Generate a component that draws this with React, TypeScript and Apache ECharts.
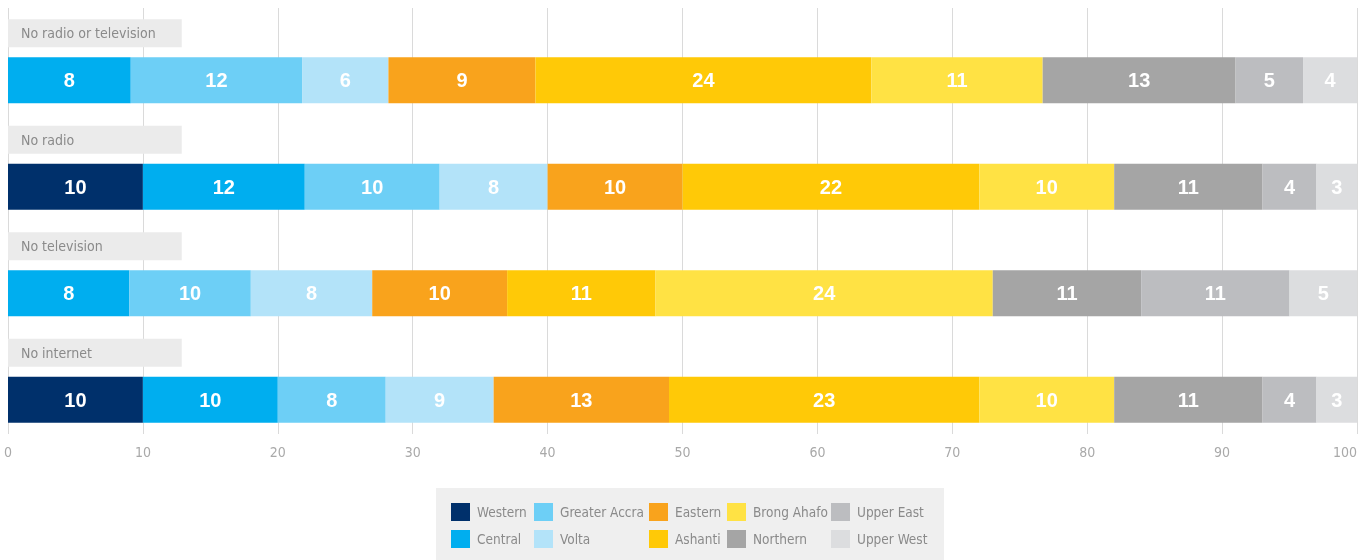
import React, { useEffect, useRef } from "react";
import * as echarts from "echarts";

// ---- data ----
const categories = ["No radio or television", "No radio", "No television", "No internet"];
const regions = ["Western", "Central", "Greater Accra", "Volta", "Eastern", "Ashanti", "Brong Ahafo", "Northern", "Upper East", "Upper West"];
const regionColors = ["#00306b", "#00aeef", "#6dcff6", "#b3e3f9", "#f9a31c", "#ffc907", "#ffe244", "#a5a5a5", "#bcbdc0", "#dcdddf"];

// segment lengths as drawn (share, %)
const western = [null, 10, null, 10];
const central = [9.1, 12, 9, 10];
const greaterAccra = [12.7, 10, 9, 8];
const volta = [6.4, 8, 9, 8];
const eastern = [10.9, 10, 10, 13];
const ashanti = [24.9, 22, 11, 23];
const brongAhafo = [12.7, 10, 25, 10];
const northern = [14.3, 11, 11, 11];
const upperEast = [5, 4, 11, 4];
const upperWest = [4, 3, 5, 3];

// printed values on the segments
const westernLabels = [null, 10, null, 10];
const centralLabels = [8, 12, 8, 10];
const greaterAccraLabels = [12, 10, 10, 8];
const voltaLabels = [6, 8, 8, 9];
const easternLabels = [9, 10, 10, 13];
const ashantiLabels = [24, 22, 11, 23];
const brongAhafoLabels = [11, 10, 24, 10];
const northernLabels = [13, 11, 11, 11];
const upperEastLabels = [5, 4, 11, 4];
const upperWestLabels = [4, 3, 5, 3];

const xTicks = { min: 0, max: 100, interval: 10 };

const seriesValues = [western, central, greaterAccra, volta, eastern, ashanti, brongAhafo, northern, upperEast, upperWest];
const seriesLabels = [westernLabels, centralLabels, greaterAccraLabels, voltaLabels, easternLabels, ashantiLabels, brongAhafoLabels, northernLabels, upperEastLabels, upperWestLabels];

const LABEL_BOX_LEN = 12.88;
const COND = "'Liberation Sans Narrow', 'DejaVu Sans Condensed', Roboto, sans-serif";
const BOLD = "'Liberation Sans', Arial, sans-serif";

// legend column x positions (icon left edge)
const legendColumnsX = [451, 534, 649, 727, 831];

export default function App() {
  const ref = useRef<HTMLDivElement>(null);
  useEffect(() => {
    if (!ref.current) return;
    const chart = echarts.init(ref.current, null, { renderer: "svg" });

    const labelSeries = {
      name: "__label",
      type: "bar",
      stack: "lbl",
      barWidth: 28,
      barGap: "35.7%",
      silent: true,
      itemStyle: { color: "#ebebeb" },
      label: {
        show: true,
        position: "insideLeft",
        distance: 13,
        color: "#8a8a8a",
        fontSize: 14,
        fontFamily: COND,
        formatter: (p: any) => categories[p.dataIndex],
      },
      emphasis: { disabled: true },
      data: categories.map(() => LABEL_BOX_LEN),
    };

    const dataSeries = regions.map((name, i) => ({
      name,
      type: "bar",
      stack: "total",
      barWidth: 46,
      barGap: "35.7%",
      itemStyle: { color: regionColors[i] },
      label: {
        show: true,
        position: "inside",
        color: "#ffffff",
        fontSize: 20,
        fontWeight: "bold",
        fontFamily: BOLD,
        formatter: (p: any) => {
          const v = seriesLabels[i][p.dataIndex];
          return v == null ? "" : String(v);
        },
      },
      emphasis: { disabled: true },
      data: seriesValues[i],
    }));

    const legends = legendColumnsX.map((x, c) => ({
      left: x,
      top: 503,
      orient: "vertical",
      icon: "rect",
      itemWidth: 19,
      itemHeight: 18,
      itemGap: 9,
      padding: 0,
      selectedMode: false,
      textStyle: { color: "#8a8a8a", fontSize: 13.5, fontFamily: COND, padding: [0, 0, 0, 2] },
      data: [regions[c * 2], regions[c * 2 + 1]],
    }));

    chart.setOption({
      animation: false,
      grid: { left: 8, right: 8, top: 8, height: 426, containLabel: false, outerBoundsMode: "none" },
      xAxis: {
        type: "value",
        min: xTicks.min,
        max: xTicks.max,
        interval: xTicks.interval,
        axisLine: { show: false },
        axisTick: { show: false },
        splitLine: { show: true, lineStyle: { color: "#dadada", width: 1 } },
        axisLabel: { color: "#a9a9a9", fontSize: 14, fontFamily: COND, margin: 11, alignMaxLabel: "right" },
      },
      yAxis: {
        type: "category",
        inverse: true,
        data: categories,
        axisLine: { show: false },
        axisTick: { show: false },
        axisLabel: { show: false },
      },
      graphic: [
        {
          type: "rect",
          left: 436,
          top: 488,
          z: 0,
          silent: true,
          shape: { width: 508, height: 80 },
          style: { fill: "#efefef" },
        },
      ],
      legend: legends,
      series: [labelSeries, ...dataSeries],
    });
    return () => chart.dispose();
  }, []);
  return <div ref={ref} style={{ position: "fixed", left: 0, top: 0, width: 1365, height: 560 }} />;
}
